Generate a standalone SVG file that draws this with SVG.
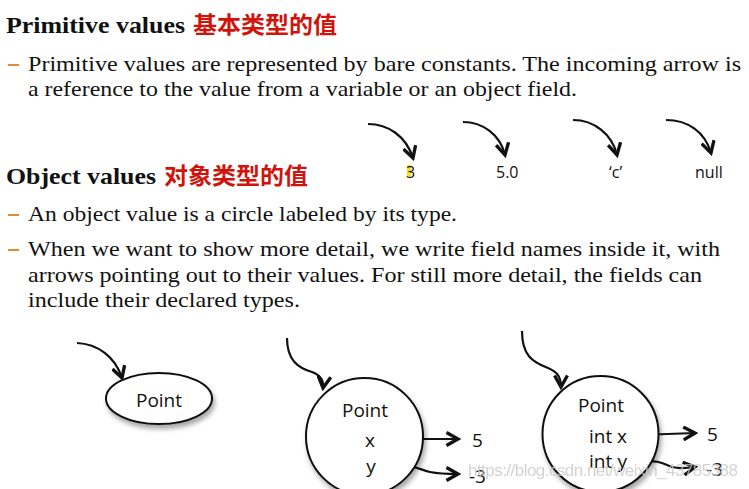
<svg xmlns="http://www.w3.org/2000/svg" width="749" height="489" viewBox="0 0 749 489">
<style>
.h{font-family:"Liberation Serif",serif;font-weight:bold;font-size:24px;fill:#111}
.cn{font-family:"Noto Sans CJK SC",sans-serif;font-weight:bold;font-size:23px;fill:#d0140c}
.b{font-family:"Liberation Serif",serif;font-size:22px;fill:#111}
.d{stroke:#e08a3c;stroke-width:2}
.s{font-family:"Open Sans","DejaVu Sans",sans-serif;font-size:19px;fill:#111}
.p{font-family:"Open Sans","DejaVu Sans",sans-serif;font-size:16px;fill:#111}
.c{fill:none;stroke:#111;stroke-width:2.2}
.n{fill:#fff;stroke:#111;stroke-width:2}
.wm{font-family:"Liberation Sans",sans-serif;font-size:17px;fill:#c8c8c8}
</style>
<defs>
<marker id="ah" viewBox="0 0 12 12" refX="10" refY="6" markerWidth="7" markerHeight="7" orient="auto" markerUnits="strokeWidth">
<path d="M1,1 L10,6 L1,11" fill="none" stroke="#111" stroke-width="2.6"/>
</marker>
<filter id="sh" x="-20%" y="-20%" width="140%" height="150%">
<feDropShadow dx="2" dy="4" stdDeviation="2.5" flood-color="#000" flood-opacity="0.35"/>
</filter>
</defs>
<rect width="749" height="489" fill="#fff"/>

<g id="text">
<text class="h" x="6" y="33" textLength="179" lengthAdjust="spacingAndGlyphs">Primitive values</text>
<text class="cn" x="193" y="33" textLength="144" lengthAdjust="spacingAndGlyphs">基本类型的值</text>
<line class="d" x1="8" y1="65" x2="19" y2="65"/>
<text class="b" x="28" y="71" textLength="713" lengthAdjust="spacingAndGlyphs">Primitive values are represented by bare constants. The incoming arrow is</text>
<text class="b" x="28" y="96" textLength="549" lengthAdjust="spacingAndGlyphs">a reference to the value from a variable or an object field.</text>
<text class="h" x="6" y="184" textLength="150" lengthAdjust="spacingAndGlyphs">Object values</text>
<text class="cn" x="164" y="184" textLength="144" lengthAdjust="spacingAndGlyphs">对象类型的值</text>
<line class="d" x1="8" y1="215" x2="19" y2="215"/>
<text class="b" x="28" y="221" textLength="429" lengthAdjust="spacingAndGlyphs">An object value is a circle labeled by its type.</text>
<line class="d" x1="8" y1="250" x2="19" y2="250"/>
<text class="b" x="28" y="256" textLength="692" lengthAdjust="spacingAndGlyphs">When we want to show more detail, we write field names inside it, with</text>
<text class="b" x="28" y="282" textLength="674" lengthAdjust="spacingAndGlyphs">arrows pointing out to their values. For still more detail, the fields can</text>
<text class="b" x="28" y="307" textLength="272" lengthAdjust="spacingAndGlyphs">include their declared types.</text>
</g>

<g id="connectors">
<path class="c" d="M368,124 C388,124 406,136 413,158" marker-end="url(#ah)"/>
<path class="c" d="M463,122 C482,122 500,134 505,155" marker-end="url(#ah)"/>
<path class="c" d="M573,120 C594,120 612,134 617,155" marker-end="url(#ah)"/>
<path class="c" d="M666,120 C688,120 705,132 711,153" marker-end="url(#ah)"/>
<path class="c" d="M77,343 C97,344 115,356 122,378" marker-end="url(#ah)"/>
<path class="c" d="M287,338 C287,360 298,368 312,372 C320,375 324,380 323,388" marker-end="url(#ah)"/>
<path class="c" d="M522,331 C522,355 532,362 548,368 C558,372 561,378 561,387" marker-end="url(#ah)"/>
<path class="c" d="M387,439 L458,439" marker-end="url(#ah)"/>
<path class="c" d="M387,466 C412,463 420,470 430,472 C440,474 448,474 458,474" marker-end="url(#ah)"/>
<path class="c" d="M640,435 L695,433" marker-end="url(#ah)"/>
<path class="c" d="M640,462 C660,459 665,465 672,467 C680,469 688,468 695,467" marker-end="url(#ah)"/>
</g>

<g id="prim-3"><rect x="407" y="165" width="4" height="12" fill="#f3e51a"/><text class="p" x="406" y="178">3</text></g>
<g id="prim-5.0"><text class="p" x="496" y="178">5.0</text></g>
<g id="prim-c"><text class="p" x="609" y="178">‘c’</text></g>
<g id="prim-null"><text class="p" x="695" y="178">null</text></g>

<g id="point-ellipse">
<ellipse class="n" cx="159" cy="398.5" rx="53" ry="25.5" filter="url(#sh)"/>
<text class="s" x="159" y="407" text-anchor="middle" font-size="20">Point</text>
</g>

<g id="point-circle">
<circle class="n" cx="364.5" cy="436.5" r="58.5" filter="url(#sh)"/>
<text class="s" x="365" y="417" text-anchor="middle" font-size="20">Point</text>
<text class="s" x="370" y="447" text-anchor="middle">x</text>
<text class="s" x="371" y="473" text-anchor="middle">y</text>
</g>
<g id="val-5a"><text class="s" x="472" y="447">5</text></g>
<g id="val-3a"><text class="s" x="469" y="483">-3</text></g>

<g id="point-typed">
<circle class="n" cx="600.5" cy="434" r="58" filter="url(#sh)"/>
<text class="s" x="601" y="412" text-anchor="middle" font-size="20">Point</text>
<text class="s" x="589" y="443" textLength="38" lengthAdjust="spacingAndGlyphs">int x</text>
<text class="s" x="589" y="468" textLength="38" lengthAdjust="spacingAndGlyphs">int y</text>
</g>
<g id="val-5b"><text class="s" x="707" y="441">5</text></g>
<g id="val-3b"><text class="s" x="706" y="476">-3</text></g>

<text class="wm" x="468" y="476" textLength="270" opacity="0.8">https://blog.csdn.net/weixin_43785388</text>
</svg>
